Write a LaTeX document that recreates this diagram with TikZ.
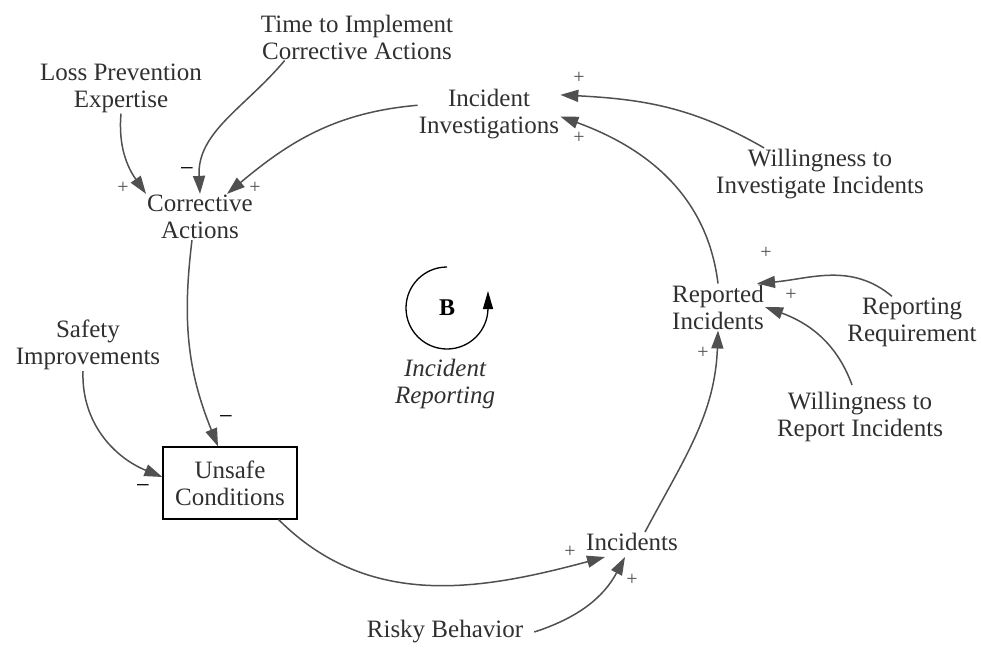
\documentclass[tikz,border=0pt]{standalone}
\usepackage{fontspec}
\setmainfont{Liberation Serif}
\usepackage{xcolor}
\usetikzlibrary{arrows.meta}
\definecolor{lnk}{HTML}{505050}
\definecolor{txt}{HTML}{303030}

\begin{document}
\begin{tikzpicture}[
    x=1pt, y=1pt,
    every node/.style={font=\fontsize{25}{27}\selectfont, text=txt},
    var/.style={align=center, inner sep=1pt},
    stock/.style={draw=black, line width=1.2pt, align=center,
                  minimum width=134pt, minimum height=72pt},
    arr/.style={draw=lnk, line width=1.5pt, -{Triangle[length=18pt, width=12pt]}},
    polp/.style={font=\fontsize{20}{20}\selectfont, text=lnk, inner sep=0pt},
    poln/.style={font=\fontsize{25}{25}\selectfont, text=black, inner sep=0pt}
]
\useasboundingbox (0,0) rectangle (981,649);

\node[var]   (tica) at (357,612) {Time to Implement\\Corrective Actions};
\node[var]   (lpe)  at (121,561) {Loss Prevention\\Expertise};
\node[var]   (cact) at (200,432) {Corrective\\Actions};
\node[var]   (iinv) at (489,535) {Incident\\Investigations};
\node[var]   (wii)  at (820,475) {Willingness to\\Investigate Incidents};
\node[var]   (rinc) at (718,342) {Reported\\Incidents};
\node[var]   (rreq) at (912,327) {Reporting\\Requirement};
\node[var]   (wri)  at (860,232) {Willingness to\\Report Incidents};
\node[var]   (simp) at (88,304)  {Safety\\Improvements};
\node[stock] (uns)  at (230,166) {Unsafe\\Conditions};
\node[var]   (inc)  at (632,107) {Incidents};
\node[var]   (rbeh) at (445,17)  {Risky Behavior};

\draw[arr] (lpe.south) to[out=-95, in=125] (cact.north west);
\draw[arr] (tica.198) to[out=-130, in=93] (cact.north);
\draw[arr] (iinv.173) to[out=185, in=40] ([xshift=27pt]cact.north);
\draw[arr] (wii.155) to[out=150, in=-3] (iinv.15);
\draw[arr] (rinc.north) to[out=97, in=-20] (iinv.-2);
\draw[arr] ([xshift=-20pt]rreq.north) to[out=140, in=5] ([xshift=-8pt]rinc.north east);
\draw[arr] ([shift={(-8pt,6pt)}]wri.north) to[out=110, in=-20] (rinc.east);
\draw[arr] ([xshift=13pt]inc.north) to[out=62, in=-92] (rinc.south);
\draw[arr] ([xshift=-19pt]uns.south east) to[out=-45, in=195] ([shift={(-27pt,-5pt)}]inc.south);
\draw[arr] ([xshift=10pt]rbeh.east) to[out=18, in=-118] ([shift={(-7pt,-5pt)}]inc.south);
\draw[arr] ([xshift=-8pt]cact.south) to[out=-97, in=112] ([xshift=-12pt]uns.north);
\draw[arr] ([xshift=-5pt]simp.south) to[out=-92, in=158] ([yshift=6pt]uns.west);

\node[polp] (s1)  at (123,461) {+};
\node[poln] (s2)  at (187,477) {\char"2212};
\node[polp] (s3)  at (255,461) {+};
\node[polp] (s4)  at (579,571) {+};
\node[polp] (s5)  at (579,511) {+};
\node[polp] (s6)  at (766,396) {+};
\node[polp] (s7)  at (791,354) {+};
\node[polp] (s8)  at (703,296) {+};
\node[poln] (s9)  at (226,229) {\char"2212};
\node[poln] (s10) at (143,160) {\char"2212};
\node[polp] (s11) at (570,97)  {+};
\node[polp] (s12) at (632,69)  {+};

\coordinate (loop) at (447,341);
\draw[line width=1.3pt, -{Triangle[length=18pt, width=10pt]}]
    ([shift={(90:41)}]loop) arc[start angle=90, end angle=360, radius=41] -- ++(0,17);
\node[font=\fontsize{24}{24}\selectfont\bfseries, text=black] (lb) at (loop) {B};
\node[var, font=\fontsize{25}{27}\selectfont\itshape] (lname) at (445,265) {Incident\\Reporting};
\end{tikzpicture}
\end{document}
